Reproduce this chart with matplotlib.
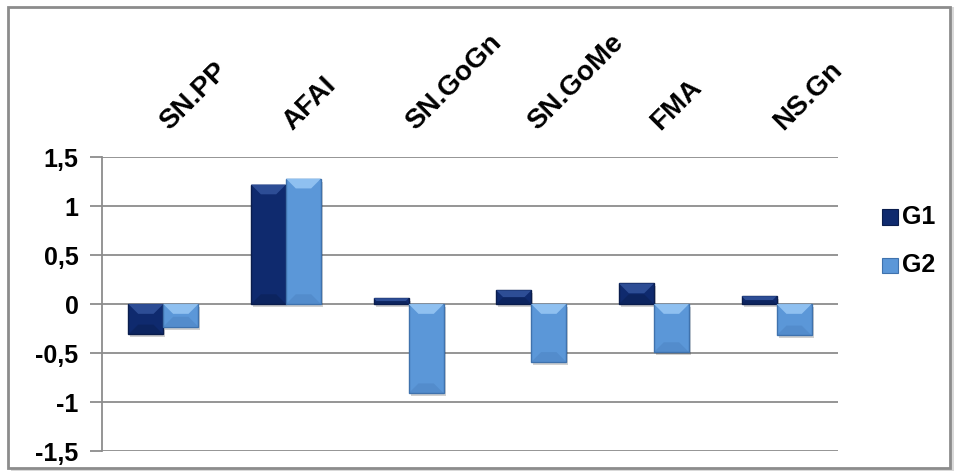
import matplotlib.pyplot as plt
import numpy as np
from matplotlib.patches import Polygon, Rectangle
from matplotlib.transforms import blended_transform_factory, offset_copy

plt.rcParams['font.family'] = ['Liberation Sans', 'DejaVu Sans']

categorias = ["SN.PP", "AFAI", "SN.GoGn", "SN.GoMe", "FMA", "NS.Gn"]
g1 = [-0.31, 1.22, 0.06, 0.14, 0.21, 0.08]
g2 = [-0.23, 1.28, -0.91, -0.59, -0.49, -0.32]
ticks_y = [-1.5, -1, -0.5, 0, 0.5, 1, 1.5]
etiquetas_y = ["-1,5", "-1", "-0,5", "0", "0,5", "1", "1,5"]

# colores: cara, borde, bisel claro, bisel oscuro
col_g1 = ("#0f2a6e", "#0a1d4d", "#2d4d95", "#081a45")
col_g2 = ("#5b97d8", "#3f72ad", "#8fc0f0", "#4579b8")

fig = plt.figure(figsize=(9.57, 4.76), dpi=100)

# marco del grafico con sombra
fig.patches.append(Rectangle((0.012, 0.010), 0.985, 0.975, transform=fig.transFigure,
                             facecolor="#d9d9d9", edgecolor="none", zorder=0))
fig.patches.append(Rectangle((0.008, 0.016), 0.985, 0.970, transform=fig.transFigure,
                             facecolor="white", edgecolor="#8c8c8c", linewidth=2, zorder=1))

ax = fig.add_axes([0.1066, 0.0525, 0.769, 0.6175])
ax.set_zorder(2)
ax.patch.set_alpha(0)

x = np.arange(len(categorias))
w = 0.285


def barra_bisel(xc, h, colores):
    cara, borde, claro, oscuro = colores
    a, b = xc - w / 2, xc + w / 2
    # sombra
    sombra = offset_copy(ax.transData, fig=fig, x=2, y=-3, units="dots")
    ax.add_patch(Rectangle((a, 0), w, h, transform=sombra, facecolor="#000000",
                           alpha=0.18, edgecolor="none", zorder=2))
    ax.bar(xc, h, width=w, color=cara, edgecolor=borde, linewidth=1, zorder=3)
    arriba, abajo = max(0, h), min(0, h)
    d = min(0.1, abs(h) / 2)
    dx = 0.08 * d / 0.1
    ax.add_patch(Polygon([(a, arriba), (b, arriba), (b - dx, arriba - d), (a + dx, arriba - d)],
                         facecolor=claro, edgecolor="none", zorder=4))
    ax.add_patch(Polygon([(a, abajo), (b, abajo), (b - dx, abajo + d), (a + dx, abajo + d)],
                         facecolor=oscuro, edgecolor="none", alpha=0.35, zorder=4))


for i in range(len(categorias)):
    barra_bisel(x[i] - w / 2, g1[i], col_g1)
    barra_bisel(x[i] + w / 2, g2[i], col_g2)

ax.set_xlim(-0.5, len(categorias) - 0.5)
ax.set_ylim(-1.5, 1.5)
ax.set_yticks(ticks_y)
ax.set_yticklabels(etiquetas_y, fontsize=18, fontweight="bold")
ax.set_xticks([])
ax.grid(axis="y", color="#8c8c8c", linewidth=1.3, zorder=1)
ax.set_axisbelow(True)
for lado in ["top", "right", "bottom"]:
    ax.spines[lado].set_visible(False)
ax.spines["left"].set_color("#8c8c8c")
ax.spines["left"].set_linewidth(1.3)
ax.tick_params(axis="y", length=9, width=1.3, color="#8c8c8c", pad=8)

# nombres de las variables arriba, inclinados
trans = blended_transform_factory(ax.transData, ax.transAxes)
for i, nombre in enumerate(categorias):
    ax.text(x[i] + 0.05, 1.09, nombre, transform=trans, rotation=45, rotation_mode="anchor",
            ha="left", va="baseline", fontsize=20, fontweight="bold")

# leyenda
for j, (nombre, col) in enumerate([("G1", col_g1), ("G2", col_g2)]):
    yy = 0.544 - j * 0.101
    fig.patches.append(Rectangle((0.9215, yy - 0.017), 0.0165, 0.033, transform=fig.transFigure,
                                 facecolor=col[0], edgecolor=col[1], linewidth=0.8, zorder=3))
    fig.text(0.9425, yy, nombre, fontsize=18, fontweight="bold", va="center", ha="left")

fig.savefig("out.png", dpi=100)
